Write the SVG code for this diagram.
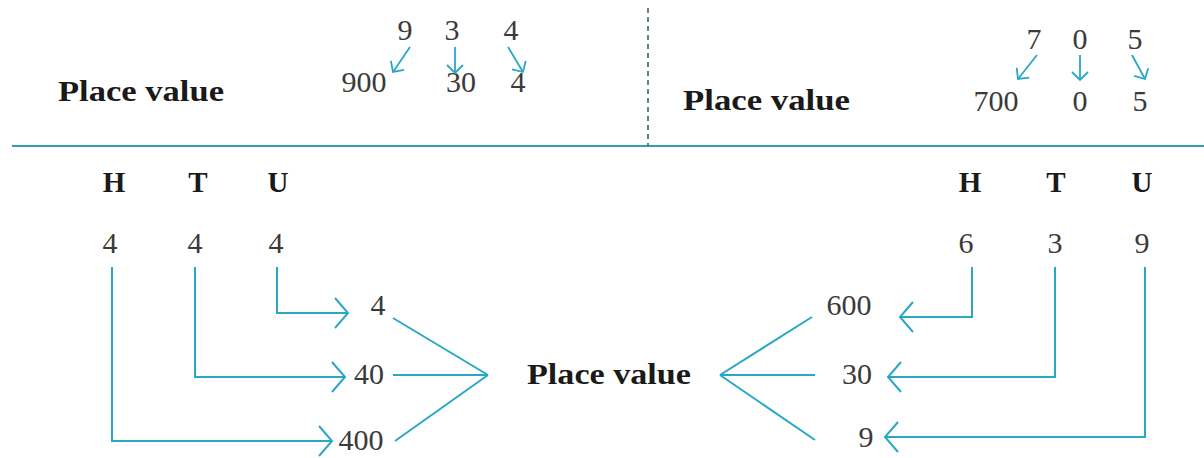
<svg xmlns="http://www.w3.org/2000/svg" width="1204" height="458" viewBox="0 0 1204 458">
<style>
.lbl{font-family:"Liberation Serif","Times New Roman",serif;font-weight:bold;fill:#1a1a1a}
.num{font-family:"Liberation Serif","Times New Roman",serif;font-size:30px;fill:#3a3a3a;text-anchor:middle}
.hd{font-family:"Liberation Serif","Times New Roman",serif;font-weight:bold;font-size:29px;fill:#1a1a1a;text-anchor:middle}
.ln{fill:none;stroke:#29a8c6;stroke-width:2}
.ar{fill:none;stroke:#29a8c6;stroke-width:2;marker-end:url(#big)}
.sa{fill:none;stroke:#29a8c6;stroke-width:1.8;marker-end:url(#small)}
</style>
<defs>
<marker id="big" markerUnits="userSpaceOnUse" viewBox="-16 -18 18 36" markerWidth="18" markerHeight="36" refX="0" refY="0" orient="auto">
<path d="M-13,-15 L0,0 L-13,15" fill="none" stroke="#29a8c6" stroke-width="2"/>
</marker>
<marker id="small" markerUnits="userSpaceOnUse" viewBox="-11 -11 13 22" markerWidth="13" markerHeight="22" refX="0" refY="0" orient="auto">
<path d="M-8,-8 L0,0 L-8,8" fill="none" stroke="#29a8c6" stroke-width="1.8"/>
</marker>
</defs>

<g id="frame">
<line x1="12" y1="146" x2="1204" y2="146" stroke="#2f9fb5" stroke-width="2.2"/>
<line x1="648" y1="8" x2="648" y2="146" stroke="#3a6470" stroke-width="1.6" stroke-dasharray="5,4"/>
</g>

<g id="top-left">
<text class="lbl" x="58" y="101" font-size="30" textLength="166" lengthAdjust="spacingAndGlyphs">Place value</text>
<text class="num" x="405" y="40">9</text>
<text class="num" x="452" y="40">3</text>
<text class="num" x="511" y="40">4</text>
<text class="num" x="364" y="92">900</text>
<text class="num" x="461" y="92">30</text>
<text class="num" x="518" y="92">4</text>
</g>

<g id="top-right">
<text class="lbl" x="683" y="110" font-size="30" textLength="167" lengthAdjust="spacingAndGlyphs">Place value</text>
<text class="num" x="1034" y="49">7</text>
<text class="num" x="1080" y="49">0</text>
<text class="num" x="1135" y="49">5</text>
<text class="num" x="996" y="111">700</text>
<text class="num" x="1080" y="111">0</text>
<text class="num" x="1140" y="111">5</text>
</g>

<g id="left-table">
<text class="hd" x="114" y="192">H</text>
<text class="hd" x="198" y="192">T</text>
<text class="hd" x="278" y="192">U</text>
<text class="num" x="110" y="253">4</text>
<text class="num" x="195" y="253">4</text>
<text class="num" x="276" y="253">4</text>
<text class="num" x="378" y="315">4</text>
<text class="num" x="369" y="384">40</text>
<text class="num" x="361" y="450">400</text>
</g>

<g id="center-label">
<text class="lbl" x="527" y="384" font-size="30" textLength="164" lengthAdjust="spacingAndGlyphs">Place value</text>
</g>

<g id="right-table">
<text class="hd" x="970" y="192">H</text>
<text class="hd" x="1056" y="192">T</text>
<text class="hd" x="1142" y="192">U</text>
<text class="num" x="966" y="253">6</text>
<text class="num" x="1055" y="253">3</text>
<text class="num" x="1142" y="253">9</text>
<text class="num" x="849" y="315">600</text>
<text class="num" x="857" y="384">30</text>
<text class="num" x="866" y="447">9</text>
</g>

<g id="connectors">
<line class="sa" x1="410" y1="47" x2="393" y2="72"/>
<line class="sa" x1="455" y1="47" x2="455" y2="73"/>
<line class="sa" x1="508" y1="47" x2="523" y2="72"/>
<line class="sa" x1="1037" y1="55" x2="1018" y2="79"/>
<line class="sa" x1="1080" y1="55" x2="1080" y2="80"/>
<line class="sa" x1="1132" y1="55" x2="1145" y2="79"/>

<path class="ar" d="M277,267 V313 H348"/>
<path class="ar" d="M195,267 V377 H345"/>
<path class="ar" d="M112,267 V441 H332"/>
<path class="ln" d="M393,318 L488,375 M393,375 H488 M395,441 L488,375"/>

<path class="ar" d="M972,267 V317 H900"/>
<path class="ar" d="M1055,267 V377 H888"/>
<path class="ar" d="M1145,267 V437 H885"/>
<path class="ln" d="M812,317 L720,375 M815,375 H720 M815,440 L720,375"/>
</g>
</svg>
